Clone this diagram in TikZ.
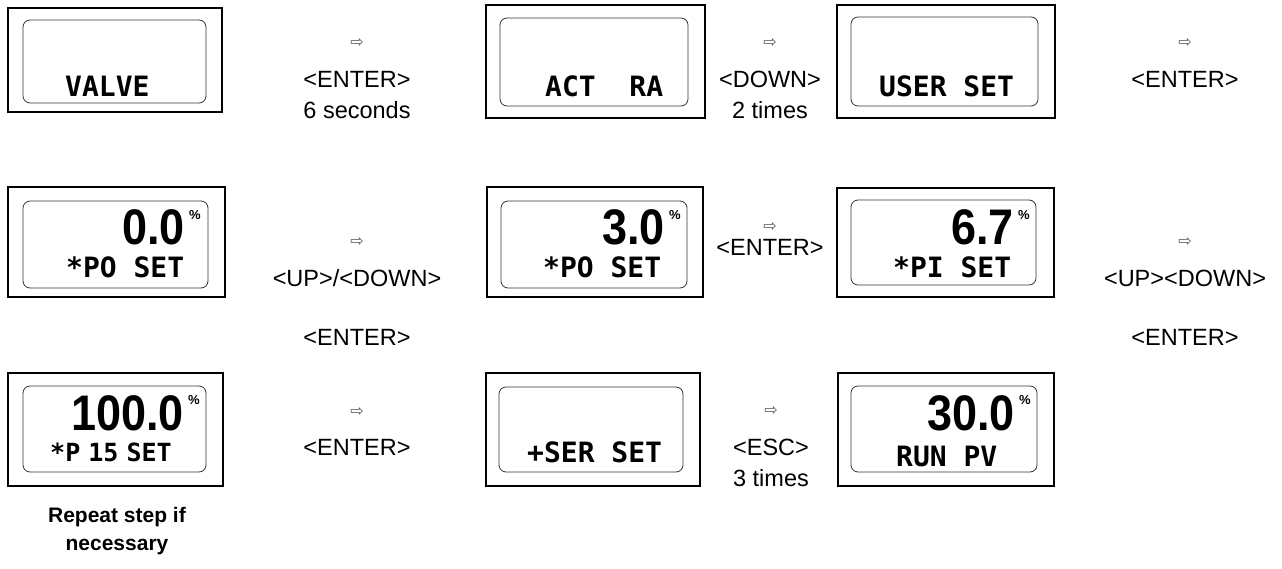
\documentclass[tikz,border=0pt]{standalone}
\usepackage{fontspec}
\setmainfont{Liberation Sans}
\newfontfamily\lcdfont{DejaVu Sans Mono}
\newfontfamily\digfont{Liberation Sans}
\newfontfamily\symfont{DejaVu Sans}
\usetikzlibrary{calc}
\tikzset{
  outerbox/.style={draw, line width=2.2pt},
  innerbox/.style={draw=black!80, line width=0.8pt, rounded corners=7pt},
  lcdtext/.style={font=\lcdfont\bfseries\fontsize{28}{28}\selectfont, anchor=base west, inner sep=0pt},
  lcdsmall/.style={font=\lcdfont\bfseries\fontsize{25}{25}\selectfont, anchor=base west, inner sep=0pt},
  digits/.style={font=\digfont\bfseries\fontsize{50}{50}\selectfont, anchor=base east, inner sep=0pt, xscale=0.9},
  pct/.style={font=\digfont\bfseries\fontsize{13}{13}\selectfont, anchor=north west, inner sep=0pt},
  keylabel/.style={font=\fontsize{23.5}{23.5}\selectfont, anchor=base, inner sep=0pt},
  notelabel/.style={font=\bfseries\fontsize{21}{21}\selectfont, anchor=base, inner sep=0pt},
  tip/.style={font=\symfont\fontsize{16}{16}\selectfont, text=black!65, inner sep=0pt},
}
\newcommand\lcdbox[9]{%
  \draw[outerbox] (#2,#3) rectangle (#4,#5);
  \draw[innerbox] (#6,#7) rectangle (#8,#9);
  \coordinate (#1) at ($(#2,#3)!0.5!(#4,#5)$);
}
\begin{document}
\begin{tikzpicture}[x=1pt,y=-1pt]
\useasboundingbox (0,0) rectangle (1282,569);
% row 1
\lcdbox{b1}{8}{8}{222}{112}{23}{20}{206}{103}
\lcdbox{b2}{486}{5}{705}{118}{500}{18}{688}{106}
\lcdbox{b3}{837}{5}{1055}{118}{851}{17}{1038}{106}
\node[lcdtext] (t1) at (65,97) {VALVE};
\node[lcdtext] (t2) at (545,97) {ACT\ \ RA};
\node[lcdtext] (t3) at (879,97) {USER SET};
% row 2
\lcdbox{b4}{8}{187}{225}{297}{23}{201}{208}{288}
\lcdbox{b5}{487}{187}{703}{297}{501}{201}{687}{288}
\lcdbox{b6}{837}{188}{1054}{297}{851}{200}{1036}{285}
\node[digits] (d4) at (185,245) {0.0};
\node[pct] (p4) at (189,210) {\%};
\node[lcdtext] (t4) at (66,278) {*PO SET};
\node[digits] (d5) at (665,245) {3.0};
\node[pct] (p5) at (669,210) {\%};
\node[lcdtext] (t5) at (543,278) {*PO SET};
\node[digits] (d6) at (1014,245) {6.7};
\node[pct] (p6) at (1018,210) {\%};
\node[lcdtext] (t6) at (893,278) {*PI SET};
% row 3
\lcdbox{b7}{8}{373}{223}{486}{23}{386}{206}{472}
\lcdbox{b8}{486}{373}{700}{486}{499}{387}{683}{472}
\lcdbox{b9}{838}{373}{1054}{486}{851}{386}{1037}{472}
\node[digits] (d7) at (184,430) {100.0};
\node[pct] (p7) at (188,395) {\%};
\node[lcdsmall] (t7) at (50,461) {*P\kern-7pt\ 15\kern-7pt\ SET};
\node[lcdtext] (t8) at (527,462) {+SER SET};
\node[digits] (d9) at (1015,430) {30.0};
\node[pct] (p9) at (1019,395) {\%};
\node[lcdtext] (t9) at (896,466) {RUN PV};
% key labels row 1
\node[tip] (a1) at (357,43) {⇨};
\node[keylabel] (k1) at (357,88) {<ENTER>};
\node[keylabel] (k1b) at (357,119) {6 seconds};
\node[tip] (a2) at (770,43) {⇨};
\node[keylabel] (k2) at (770,88) {<DOWN>};
\node[keylabel] (k2b) at (770,119) {2 times};
\node[tip] (a3) at (1185,43) {⇨};
\node[keylabel] (k3) at (1185,88) {<ENTER>};
% row 2
\node[tip] (a4) at (357,242) {⇨};
\node[keylabel] (k4) at (357,287) {<UP>/<DOWN>};
\node[keylabel] (k4b) at (357,345) {<ENTER>};
\node[tip] (a5) at (770,227) {⇨};
\node[keylabel] (k5) at (770,256) {<ENTER>};
\node[tip] (a6) at (1185,242) {⇨};
\node[keylabel] (k6) at (1185,287) {<UP><DOWN>};
\node[keylabel] (k6b) at (1185,345) {<ENTER>};
% row 3
\node[tip] (a7) at (357,412) {⇨};
\node[keylabel] (k7) at (357,455) {<ENTER>};
\node[tip] (a8) at (771,411) {⇨};
\node[keylabel] (k8) at (771,455) {<ESC>};
\node[keylabel] (k8b) at (771,486) {3 times};
\node[notelabel] (n1) at (117,522) {Repeat step if};
\node[notelabel] (n2) at (117,550) {necessary};
\end{tikzpicture}
\end{document}
